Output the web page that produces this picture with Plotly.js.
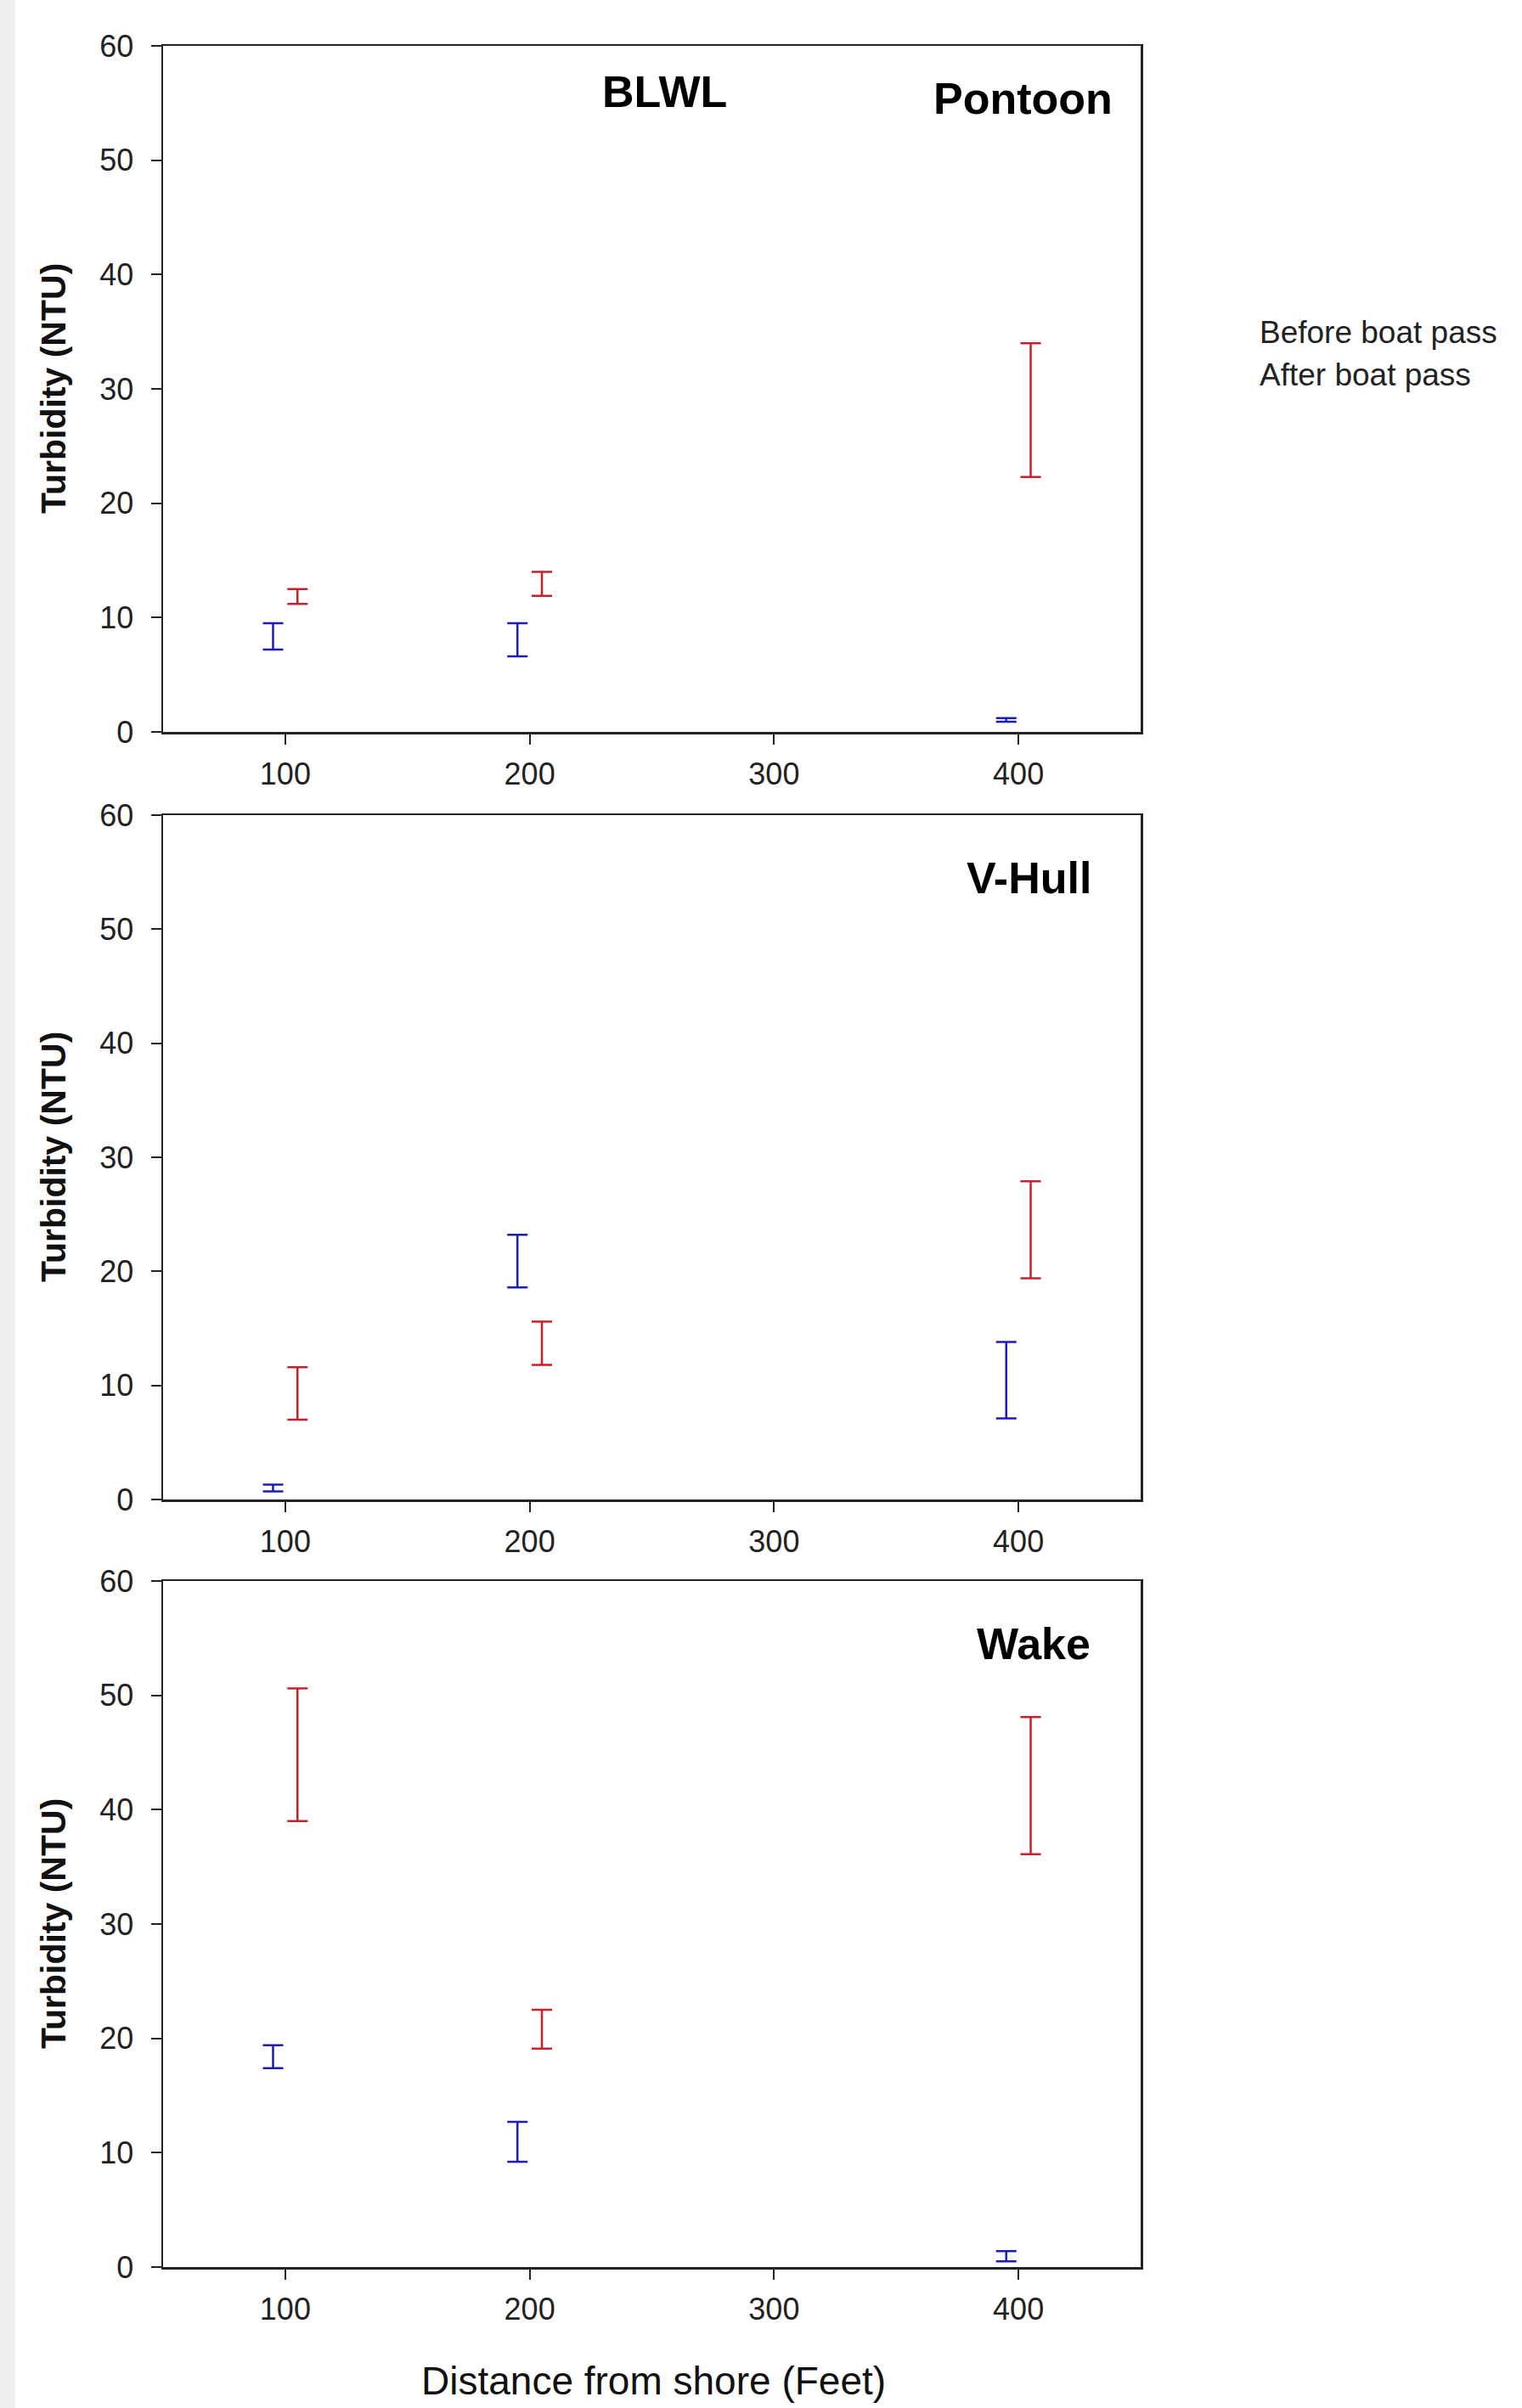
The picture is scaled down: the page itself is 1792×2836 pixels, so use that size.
<!DOCTYPE html>
<html><head><meta charset="utf-8">
<script src="https://cdn.plot.ly/plotly-3.0.1.min.js"></script>
<style>html,body{margin:0;padding:0;background:#fff}</style>
</head><body><div id="chart" style="width:1792px;height:2836px"></div>
<script>
// ---- data ----
const distances = [100, 200, 400];
const xTicks = [100, 200, 300, 400];
const yTicks = [0, 10, 20, 30, 40, 50, 60];
const seriesNames = ['Before boat pass', 'After boat pass'];
const panelLabels = [['BLWL', 'Pontoon'], ['V-Hull'], ['Wake']];
const yTitle = 'Turbidity (NTU)';
const xTitle = 'Distance from shore (Feet)';

// Pontoon (BLWL)
const pontoonBeforeLow  = [7.2, 6.6, 0.9];
const pontoonBeforeHigh = [9.5, 9.5, 1.2];
const pontoonAfterLow   = [11.2, 11.9, 22.3];
const pontoonAfterHigh  = [12.5, 14.0, 34.0];
// V-Hull
const vhullBeforeLow  = [0.7, 18.6, 7.1];
const vhullBeforeHigh = [1.3, 23.2, 13.8];
const vhullAfterLow   = [7.0, 11.8, 19.4];
const vhullAfterHigh  = [11.6, 15.6, 27.9];
// Wake
const wakeBeforeLow  = [17.4, 9.2, 0.5];
const wakeBeforeHigh = [19.4, 12.7, 1.4];
const wakeAfterLow   = [39.0, 19.1, 36.1];
const wakeAfterHigh  = [50.6, 22.5, 48.1];

// ---- styling ----
const W = 1792, H = 2836;
const colors = ['#1c1cb8', '#c8202c'];
const xOffset = [-5, 5];
const xDomain = [192 / W, 1343 / W];
const panelPx = [[54, 862], [960, 1766], [1862, 2670]];
const yDomains = panelPx.map(p => [1 - p[1] / H, 1 - p[0] / H]);
const font = 'Liberation Sans, Arial, sans-serif';
const axisColor = '#222';

const panels = [
  [[pontoonBeforeLow, pontoonBeforeHigh], [pontoonAfterLow, pontoonAfterHigh]],
  [[vhullBeforeLow, vhullBeforeHigh], [vhullAfterLow, vhullAfterHigh]],
  [[wakeBeforeLow, wakeBeforeHigh], [wakeAfterLow, wakeAfterHigh]]
];

const traces = [];
panels.forEach((panel, i) => {
  const sfx = i === 0 ? '' : String(i + 1);
  panel.forEach((s, j) => {
    const lo = s[0], hi = s[1];
    traces.push({
      type: 'scatter', mode: 'markers', name: seriesNames[j], showlegend: false,
      xaxis: 'x' + sfx, yaxis: 'y' + sfx,
      x: distances.map(d => d + xOffset[j]),
      y: lo.map((v, k) => (v + hi[k]) / 2),
      marker: {size: 1, color: 'rgba(0,0,0,0)'},
      error_y: {type: 'data', symmetric: true,
        array: lo.map((v, k) => (hi[k] - v) / 2),
        color: colors[j], thickness: 2.5, width: 12},
      hoverinfo: 'skip'
    });
  });
});

const layout = {
  width: W, height: H,
  margin: {l: 0, r: 0, t: 0, b: 0, pad: 0},
  paper_bgcolor: '#fff', plot_bgcolor: '#fff',
  showlegend: false,
  font: {family: font, color: '#222'},
  shapes: [{type: 'rect', xref: 'paper', yref: 'paper', x0: 0, x1: 18 / W, y0: 0, y1: 1,
            fillcolor: '#efefef', line: {width: 0}, layer: 'below'}],
  annotations: []
};

panels.forEach((p, i) => {
  const sfx = i === 0 ? '' : String(i + 1);
  layout['xaxis' + sfx] = {
    domain: xDomain, anchor: 'y' + sfx, range: [50, 450],
    tickmode: 'array', tickvals: xTicks, ticktext: xTicks.map(String),
    ticks: 'outside', ticklen: 12, tickwidth: 2, tickcolor: axisColor,
    ticklabelstandoff: 4,
    showline: true, linecolor: axisColor, linewidth: 2.5, mirror: true,
    showgrid: false, zeroline: false,
    tickfont: {family: font, size: 36, color: '#222'}
  };
  layout['yaxis' + sfx] = {
    domain: yDomains[i], anchor: 'x' + sfx, range: [0, 60],
    tickmode: 'array', tickvals: yTicks, ticktext: yTicks.map(String),
    ticks: 'outside', ticklen: 12, tickwidth: 2, tickcolor: axisColor,
    ticklabelstandoff: 13,
    showline: true, linecolor: axisColor, linewidth: 2.5, mirror: true,
    showgrid: false, zeroline: false,
    tickfont: {family: font, size: 36, color: '#222'}
  };
  // y title
  layout.annotations.push({
    text: yTitle, xref: 'paper', yref: 'paper', x: 63 / W,
    y: (yDomains[i][0] + yDomains[i][1]) / 2, textangle: -90,
    xanchor: 'center', yanchor: 'middle', showarrow: false,
    font: {family: font, size: 41, weight: 'bold', color: '#111'}
  });
});

// panel labels
const labelPos = [[782, 108], [1204, 116], [1211, 1034], [1217, 1936]];
const labelTexts = [panelLabels[0][0], panelLabels[0][1], panelLabels[1][0], panelLabels[2][0]];
labelTexts.forEach((t, k) => {
  layout.annotations.push({
    text: t, xref: 'paper', yref: 'paper', x: labelPos[k][0] / W, y: 1 - labelPos[k][1] / H,
    xanchor: 'center', yanchor: 'middle', showarrow: false,
    font: {family: font, size: 52, weight: 'bold', color: '#000'}
  });
});

// legend text
[391, 441].forEach((py, j) => {
  layout.annotations.push({
    text: seriesNames[j], xref: 'paper', yref: 'paper', x: 1481 / W, y: 1 - py / H,
    xanchor: 'left', yanchor: 'middle', showarrow: false,
    font: {family: font, size: 37, color: '#222'}
  });
});

// x title
layout.annotations.push({
  text: xTitle, xref: 'paper', yref: 'paper', x: 769 / W, y: 1 - 2804 / H,
  xanchor: 'center', yanchor: 'middle', showarrow: false,
  font: {family: font, size: 46, color: '#111'}
});

Plotly.newPlot('chart', traces, layout, {staticPlot: true, displayModeBar: false});
</script>
</body></html>
